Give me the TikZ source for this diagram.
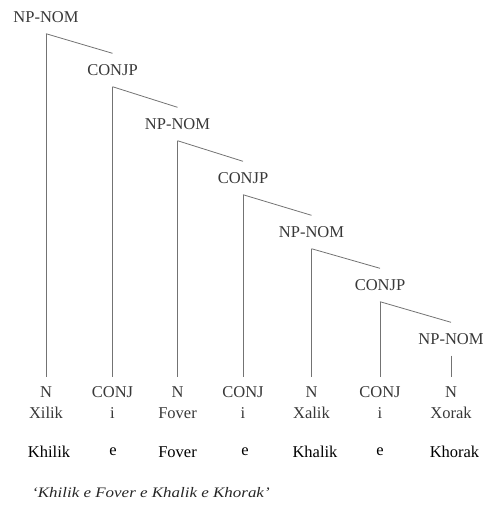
\documentclass[tikz,border=0pt]{standalone}
\usepackage{fontspec}
\usepackage{graphicx}
\setmainfont{Liberation Serif}
\begin{document}
\begin{tikzpicture}[x=1pt,y=-1pt,
  lbl/.style={font=\fontsize{16.5}{18}\selectfont, text=black!78, inner sep=0pt,
    text height=11pt, text depth=0pt, minimum height=33pt},
  leaf/.style={font=\fontsize{16.5}{18}\selectfont, text=black!78, inner sep=0pt,
    text height=11pt, text depth=0pt, minimum height=30pt},
  word/.style={font=\fontsize{16.5}{18}\selectfont, text=black!78, inner sep=0pt},
  gloss/.style={font=\fontsize{16.5}{18}\selectfont, text=black, inner sep=0pt},
  branch/.style={draw=black!55, line width=0.8pt}]
\useasboundingbox (0,0) rectangle (486,507);

% phrase nodes
\node[lbl] (np1) at (46,17) {NP-NOM};
\node[lbl] (cj1) at (112.5,70) {CONJP};
\node[lbl] (np2) at (177.5,124) {NP-NOM};
\node[lbl] (cj2) at (243,178) {CONJP};
\node[lbl] (np3) at (311.5,232) {NP-NOM};
\node[lbl] (cj3) at (380,285) {CONJP};
\node[lbl] (np4) at (451,339) {NP-NOM};

% terminal categories
\node[leaf] (n1) at (46,392) {N};
\node[leaf] (n2) at (112.5,392) {CONJ};
\node[leaf] (n3) at (177.5,392) {N};
\node[leaf] (n4) at (243,392) {CONJ};
\node[leaf] (n5) at (311.5,392) {N};
\node[leaf] (n6) at (380,392) {CONJ};
\node[leaf] (n7) at (451,392) {N};

% words
\node[word] (w1) at (46,413) {Xilik};
\node[word] (w2) at (112.5,413) {i};
\node[word] (w3) at (177.5,413) {Fover};
\node[word] (w4) at (243,413) {i};
\node[word] (w5) at (311.5,413) {Xalik};
\node[word] (w6) at (380,413) {i};
\node[word] (w7) at (451,413) {Xorak};

% transliteration
\node[gloss] (g1) at (49,452) {Khilik};
\node[gloss] (g2) at (113,452) {e};
\node[gloss] (g3) at (177.5,452) {Fover};
\node[gloss] (g4) at (245,452) {e};
\node[gloss] (g5) at (315,452) {Khalik};
\node[gloss] (g6) at (380,452) {e};
\node[gloss] (g7) at (454.5,452) {Khorak};

% translation
\node[anchor=west, inner sep=0pt, text=black!85,
  font=\fontsize{14.5}{16}\selectfont\itshape] (tr) at (32,493)
  {\scalebox{1.17}[1]{‘Khilik e Fover e Khalik e Khorak’}};

% tree branches
\draw[branch] (np1.south) -- (n1.north);
\draw[branch] (np1.south) -- (cj1.north);
\draw[branch] (cj1.south) -- (n2.north);
\draw[branch] (cj1.south) -- (np2.north);
\draw[branch] (np2.south) -- (n3.north);
\draw[branch] (np2.south) -- (cj2.north);
\draw[branch] (cj2.south) -- (n4.north);
\draw[branch] (cj2.south) -- (np3.north);
\draw[branch] (np3.south) -- (n5.north);
\draw[branch] (np3.south) -- (cj3.north);
\draw[branch] (cj3.south) -- (n6.north);
\draw[branch] (cj3.south) -- (np4.north);
\draw[branch] (np4.south) -- (n7.north);
\end{tikzpicture}
\end{document}
